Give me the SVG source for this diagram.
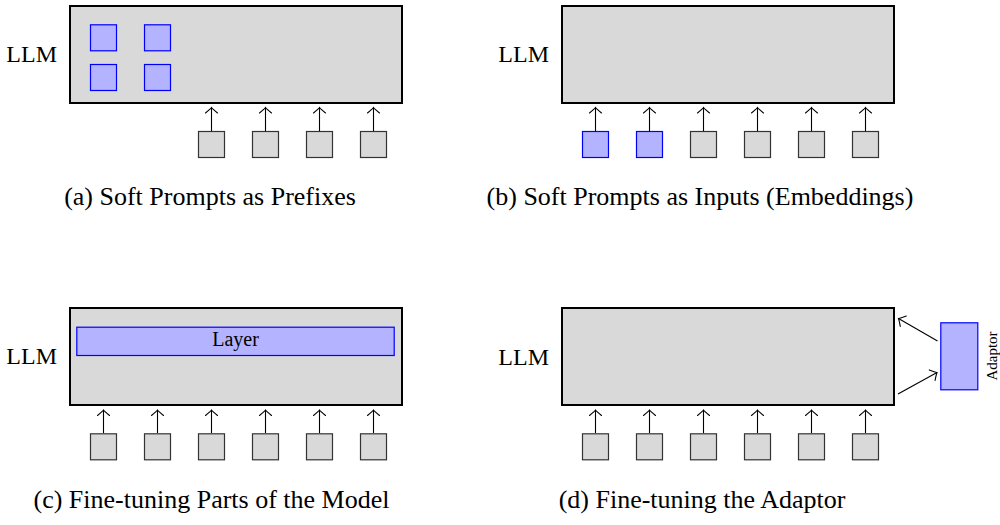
<svg xmlns="http://www.w3.org/2000/svg" width="1000" height="525" viewBox="0 0 1000 525">
<defs>
<marker id="arr" viewBox="-8 -8 16 16" markerWidth="16" markerHeight="16" markerUnits="userSpaceOnUse" refX="0" refY="0" orient="auto" overflow="visible">
<path d="M-5.5,-6 Q-1.5,-1.2 0,0 Q-1.5,1.2 -5.5,6" fill="none" stroke="#000" stroke-width="1.1" stroke-linecap="round"/>
</marker>
<style>
.llm{fill:#d9d9d9;stroke:#000;stroke-width:2}
.tok{fill:#d9d9d9;stroke:#333;stroke-width:1.2}
.soft{fill:#b3b3ff;stroke:#0000ff;stroke-width:1.2}
.lbl{font-family:"Liberation Serif","Times New Roman",serif;fill:#000}
.big{font-size:24px}
.cap{font-size:26px;text-anchor:middle}
.conn line{stroke:#000;stroke-width:1.1;marker-end:url(#arr)}
</style>
</defs>

<!-- (a) -->
<g id="a-llm">
<rect class="llm" x="70" y="6" width="332" height="97"/>
<text class="lbl big" x="57" y="62" text-anchor="end">LLM</text>
</g>
<g id="a-prefix">
<rect class="soft" x="90.5" y="24.8" width="26" height="26"/>
<rect class="soft" x="144.5" y="24.8" width="26" height="26"/>
<rect class="soft" x="90.5" y="64.5" width="26" height="26"/>
<rect class="soft" x="144.5" y="64.5" width="26" height="26"/>
</g>
<g id="a-inputs">
<rect class="tok" x="198.5" y="131.5" width="26" height="26"/>
<rect class="tok" x="252.5" y="131.5" width="26" height="26"/>
<rect class="tok" x="306.5" y="131.5" width="26" height="26"/>
<rect class="tok" x="360.5" y="131.5" width="26" height="26"/>
</g>
<text id="a-caption" class="lbl cap" x="210" y="205">(a) Soft Prompts as Prefixes</text>

<!-- (b) -->
<g id="b-llm">
<rect class="llm" x="562" y="6" width="332" height="97"/>
<text class="lbl big" x="549" y="62" text-anchor="end">LLM</text>
</g>
<g id="b-inputs">
<rect class="soft" x="582.5" y="131.5" width="26" height="26"/>
<rect class="soft" x="636.5" y="131.5" width="26" height="26"/>
<rect class="tok" x="690.5" y="131.5" width="26" height="26"/>
<rect class="tok" x="744.5" y="131.5" width="26" height="26"/>
<rect class="tok" x="798.5" y="131.5" width="26" height="26"/>
<rect class="tok" x="852.5" y="131.5" width="26" height="26"/>
</g>
<text id="b-caption" class="lbl cap" x="700" y="205">(b) Soft Prompts as Inputs (Embeddings)</text>

<!-- (c) -->
<g id="c-llm">
<rect class="llm" x="70" y="308" width="332" height="97"/>
<text class="lbl big" x="57" y="364" text-anchor="end">LLM</text>
</g>
<g id="c-layer">
<rect class="soft" x="76.8" y="327.2" width="317.4" height="28.3"/>
<text class="lbl" x="235.5" y="346" font-size="20" text-anchor="middle">Layer</text>
</g>
<g id="c-inputs">
<rect class="tok" x="90.5" y="433.8" width="26" height="26"/>
<rect class="tok" x="144.5" y="433.8" width="26" height="26"/>
<rect class="tok" x="198.5" y="433.8" width="26" height="26"/>
<rect class="tok" x="252.5" y="433.8" width="26" height="26"/>
<rect class="tok" x="306.5" y="433.8" width="26" height="26"/>
<rect class="tok" x="360.5" y="433.8" width="26" height="26"/>
</g>
<text id="c-caption" class="lbl cap" x="211.5" y="508">(c) Fine-tuning Parts of the Model</text>

<!-- (d) -->
<g id="d-llm">
<rect class="llm" x="562" y="308" width="332" height="97"/>
<text class="lbl big" x="549" y="365" text-anchor="end">LLM</text>
</g>
<g id="d-adaptor">
<rect class="soft" x="940.8" y="322.8" width="37" height="67"/>
<text class="lbl" transform="translate(997,356) rotate(-90)" font-size="15" text-anchor="middle">Adaptor</text>
</g>
<g id="d-inputs">
<rect class="tok" x="582.5" y="433.8" width="26" height="26"/>
<rect class="tok" x="636.5" y="433.8" width="26" height="26"/>
<rect class="tok" x="690.5" y="433.8" width="26" height="26"/>
<rect class="tok" x="744.5" y="433.8" width="26" height="26"/>
<rect class="tok" x="798.5" y="433.8" width="26" height="26"/>
<rect class="tok" x="852.5" y="433.8" width="26" height="26"/>
</g>
<text id="d-caption" class="lbl cap" x="702" y="508">(d) Fine-tuning the Adaptor</text>

<!-- connectors -->
<g id="connectors" class="conn">
<line x1="211.5" y1="131" x2="211.5" y2="107.5"/>
<line x1="265.5" y1="131" x2="265.5" y2="107.5"/>
<line x1="319.5" y1="131" x2="319.5" y2="107.5"/>
<line x1="373.5" y1="131" x2="373.5" y2="107.5"/>

<line x1="595.5" y1="131" x2="595.5" y2="107.5"/>
<line x1="649.5" y1="131" x2="649.5" y2="107.5"/>
<line x1="703.5" y1="131" x2="703.5" y2="107.5"/>
<line x1="757.5" y1="131" x2="757.5" y2="107.5"/>
<line x1="811.5" y1="131" x2="811.5" y2="107.5"/>
<line x1="865.5" y1="131" x2="865.5" y2="107.5"/>

<line x1="103.5" y1="433" x2="103.5" y2="410"/>
<line x1="157.5" y1="433" x2="157.5" y2="410"/>
<line x1="211.5" y1="433" x2="211.5" y2="410"/>
<line x1="265.5" y1="433" x2="265.5" y2="410"/>
<line x1="319.5" y1="433" x2="319.5" y2="410"/>
<line x1="373.5" y1="433" x2="373.5" y2="410"/>

<line x1="595.5" y1="433" x2="595.5" y2="410"/>
<line x1="649.5" y1="433" x2="649.5" y2="410"/>
<line x1="703.5" y1="433" x2="703.5" y2="410"/>
<line x1="757.5" y1="433" x2="757.5" y2="410"/>
<line x1="811.5" y1="433" x2="811.5" y2="410"/>
<line x1="865.5" y1="433" x2="865.5" y2="410"/>

<line x1="937.5" y1="341" x2="898.5" y2="318.5"/>
<line x1="898" y1="394" x2="937" y2="372.5"/>
</g>
</svg>
